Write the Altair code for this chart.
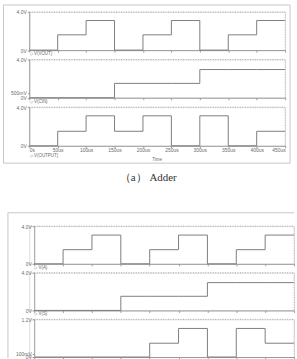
import altair as alt
import pandas as pd

# ---- data ----
time_us = [0, 50, 100, 150, 200, 250, 300, 350, 400, 450]

a_sum = [0, 1.6, 3.1, 0, 1.6, 3.1, 0, 1.6, 3.1, 3.1]
a_cin = [0, 0, 0, 1.5, 1.5, 1.5, 2.95, 2.95, 2.95, 2.95]
a_out = [0, 1.5, 3.1, 1.5, 3.1, 0, 3.1, 0, 1.5, 1.5]

b_in = [0, 1.5, 3.05, 0, 1.5, 3.05, 0, 1.5, 3.05, 3.05]
b_sel = [0, 0, 0, 1.5, 1.5, 1.5, 2.95, 2.95, 2.95, 2.95]
b_out = [0, 0, 0, 0, 0.44, 0.91, 0, 0.91, 0.44, 0.44]

x_tick_labels = ["0s", "50us", "100us", "150us", "200us", "250us",
                 "300us", "350us", "400us", "450us"]

legend_a = ["◇ V(VOUT)", "◇ V(CIN)", "◇ V(OUTPUT)"]
legend_b = ["◇ V(A)", "◇ V(S)"]

y_a1 = ([0, 4.0], ["0V", "4.0V"])
y_a2 = ([0, 0.5, 4.0], ["0V", "500mV", "4.0V"])
y_a3 = ([0, 4.0], ["0V", "4.0V"])
y_b1 = ([0, 4.0], ["0V", "4.0V"])
y_b2 = ([0, 4.0], ["0V", "4.0V"])
y_b3 = ([0, 0.1, 1.2], ["0V", "100mV", "1.2V"])

x_title = "Time"
caption = "（a） Adder"

LINE = "#7d7d7d"
AX = "#9a9a9a"
LBL = "#6a6a6a"
FRAME = "#c6c6c6"


def label_expr(vals, labels):
    e = "''"
    for v, l in reversed(list(zip(vals, labels))):
        e = f"(datum.value == {v} ? '{l}' : {e})"
    return e


def panel(values, yspec, legend, width, height, xrange, yoffset,
          show_xlabels, leg_x, leg_y, extra=None):
    ymax = max(yspec[0])
    df = pd.DataFrame({"t": time_us, "v": values})
    xs = alt.Scale(domain=[0, 450], range=xrange, nice=False, zero=False)
    ys = alt.Scale(domain=[0, ymax], nice=False, zero=False)
    xaxis = alt.Axis(values=time_us, labelExpr=label_expr(time_us, x_tick_labels),
                     labels=show_xlabels, title=None, labelFlush=True,
                     labelOverlap=False, labelBound=False,
                     tickSize=2, labelPadding=0, domainColor=AX, tickColor=AX,
                     labelFontSize=5, labelColor=LBL, grid=False)
    yaxis = alt.Axis(values=yspec[0], labelExpr=label_expr(*yspec), title=None,
                     offset=yoffset, tickSize=2, labelPadding=1,
                     labelOverlap=False, labelFontSize=5, labelColor=LBL,
                     domainColor=AX, tickColor=AX, grid=False)
    X = alt.X("t:Q", scale=xs, axis=xaxis)
    Y = alt.Y("v:Q", scale=ys, axis=yaxis)
    line = alt.Chart(df).mark_line(interpolate="step-after", color=LINE,
                                   strokeWidth=1).encode(x=X, y=Y)
    top = alt.Chart(pd.DataFrame({"t": [0], "t2": [450], "v": [ymax]})).mark_rule(
        strokeDash=[1, 1.5], color="#9a9a9a", strokeWidth=0.8).encode(
        x=X, x2="t2:Q", y=Y)
    right = alt.Chart(pd.DataFrame({"t": [450], "v": [0], "v2": [ymax]})).mark_rule(
        strokeDash=[1, 1.5], color="#b0b0b0", strokeWidth=0.8).encode(
        x=X, y=Y, y2="v2:Q")
    layers = [line, top, right]
    if legend is not None:
        leg = alt.Chart(pd.DataFrame({"label": [legend]})).mark_text(
            align="left", baseline="middle", fontSize=4.5, color=LBL).encode(
            text="label:N", x=alt.value(leg_x), y=alt.value(leg_y))
        layers.append(leg)
    if extra:
        layers = layers + extra
    return alt.layer(*layers).properties(width=width, height=height)


# Figure (a)
fa = pd.DataFrame({"f": [0]})
frame_a = [
    alt.Chart(fa).mark_rule(color=FRAME, strokeWidth=1).encode(
        x=alt.value(-26), y=alt.value(-7), y2=alt.value(152.5)),
    alt.Chart(fa).mark_rule(color=FRAME, strokeWidth=1).encode(
        x=alt.value(263), y=alt.value(-7), y2=alt.value(152.5)),
    alt.Chart(fa).mark_rule(color=FRAME, strokeWidth=1).encode(
        x=alt.value(-26), x2=alt.value(263), y=alt.value(-7)),
    alt.Chart(fa).mark_rule(color=FRAME, strokeWidth=1).encode(
        x=alt.value(-26), x2=alt.value(263), y=alt.value(152.5)),
]

time_txt = alt.Chart(pd.DataFrame({"label": [x_title]})).mark_text(
    fontSize=4.5, color=LBL, baseline="middle").encode(
    text="label:N", x=alt.value(129), y=alt.value(53))

a1 = panel(a_sum, y_a1, legend_a[0], 258, 38.5, [0, 258], 0, False, 0.5, 42.5,
           extra=frame_a)
a2 = panel(a_cin, y_a2, legend_a[1], 258, 38.5, [0, 258], 0, False, 0.5, 42.5)
a3 = panel(a_out, y_a3, legend_a[2], 258, 39, [0, 258], 0, True, 0.5, 49,
           extra=[time_txt])

cap = alt.Chart(pd.DataFrame({"c": [caption]})).mark_text(
    font="Liberation Serif", fontSize=11, color="#333333", baseline="middle").encode(
    text="c:N", x=alt.value(120), y=alt.value(24)).properties(
    width=258, height=63,
    view=alt.ViewBackground(fill="transparent", stroke="transparent", strokeWidth=0))

# Figure (b)
fb = pd.DataFrame({"f": [0]})
frame_b = [
    alt.Chart(fb).mark_rule(color=FRAME, strokeWidth=1).encode(
        x=alt.value(-21.5), y=alt.value(-13.5), y2=alt.value(133)),
    alt.Chart(fb).mark_rule(color=FRAME, strokeWidth=1).encode(
        x=alt.value(-21.5), x2=alt.value(267), y=alt.value(-13.5)),
]

b1 = panel(b_in, y_b1, legend_b[0], 267, 38, [5, 267], -5, False, 5, 42,
           extra=frame_b)
b2 = panel(b_sel, y_b2, legend_b[1], 267, 38, [5, 267], -5, False, 5, 42)
b3 = panel(b_out, y_b3, None, 267, 38, [5, 267], -5, False, 5, 0)

chart = alt.vconcat(a1, a2, a3, cap, b1, b2, b3, spacing=9, bounds="flush").properties(
    padding={"left": 2.5, "top": 2.5, "right": 0, "bottom": 0}
).configure_view(stroke=None).configure(font="Liberation Sans")

chart.save("out.html", embed_options={"renderer": "svg", "actions": False})
